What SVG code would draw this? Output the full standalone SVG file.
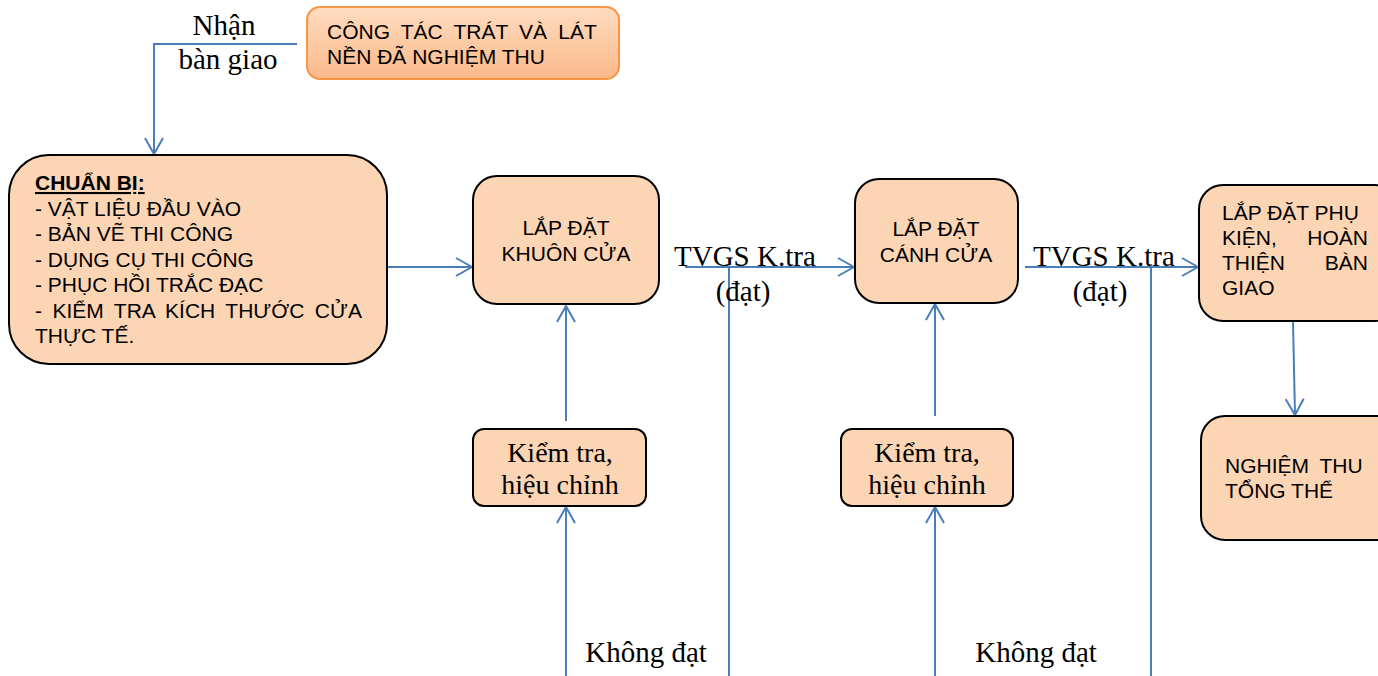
<svg xmlns="http://www.w3.org/2000/svg" width="1378" height="676" viewBox="0 0 1378 676">
<style>
.box{fill:#fcd5b5;stroke:#000;stroke-width:2}
.sans{font-family:"Liberation Sans",Arial,sans-serif;font-size:21px;fill:#000}
.serif{font-family:"Liberation Serif","Times New Roman",serif;font-size:29px;fill:#000}
.kt{font-size:28px}
.c{text-anchor:middle}
.ln{stroke:#4a7ebb;stroke-width:2;fill:none}
.arr{marker-end:url(#ah)}
</style>
<defs>
<linearGradient id="og" x1="0" y1="0" x2="0" y2="1">
<stop offset="0" stop-color="#fedcbf"/>
<stop offset="1" stop-color="#fbb98a"/>
</linearGradient>
<marker id="ah" viewBox="0 0 18 20" refX="17" refY="10" markerWidth="18" markerHeight="20" markerUnits="userSpaceOnUse" orient="auto">
<path d="M1,1 L17,10 L1,19" stroke="#4a7ebb" stroke-width="2" fill="none"/>
</marker>
</defs>

<g id="connectors">
<polyline class="ln arr" points="297,44 154,44 154,154"/>
<line class="ln arr" x1="388" y1="267" x2="472" y2="267"/>
<line class="ln arr" x1="685" y1="267" x2="854" y2="267"/>
<line class="ln arr" x1="1025" y1="267" x2="1198" y2="267"/>
<line class="ln" x1="729" y1="267" x2="729" y2="676"/>
<line class="ln" x1="1151" y1="267" x2="1151" y2="676"/>
<line class="ln arr" x1="566" y1="421" x2="566" y2="306"/>
<line class="ln arr" x1="566" y1="676" x2="566" y2="507"/>
<line class="ln arr" x1="935" y1="416" x2="935" y2="304"/>
<line class="ln arr" x1="935" y1="676" x2="935" y2="507"/>
<line class="ln arr" x1="1293" y1="322" x2="1295" y2="415"/>
<text class="serif c" x="224" y="35">Nhận</text>
<text class="serif c" x="228" y="69">bàn giao</text>
<text class="serif" x="674" y="266">TVGS K.tra</text>
<text class="serif c" x="743" y="301">(đạt)</text>
<text class="serif" x="1033" y="266">TVGS K.tra</text>
<text class="serif c" x="1100" y="301">(đạt)</text>
<text class="serif c" x="646" y="662">Không đạt</text>
<text class="serif c" x="1036" y="662">Không đạt</text>
</g>

<g id="node-nen">
<rect x="307" y="7" width="312" height="72" rx="13" fill="url(#og)" stroke="#f79646" stroke-width="2"/>
<text class="sans" x="327" y="39" word-spacing="5.3">CÔNG TÁC TRÁT VÀ LÁT</text>
<text class="sans" x="327" y="64">NỀN ĐÃ NGHIỆM THU</text>
</g>

<g id="node-chuanbi">
<rect class="box" x="9" y="155" width="378" height="209" rx="40"/>
<text class="sans" x="35" y="190" font-weight="bold" text-decoration="underline">CHUẨN BỊ:</text>
<text class="sans" x="35" y="216">- VẬT LIỆU ĐẦU VÀO</text>
<text class="sans" x="35" y="241">- BẢN VẼ THI CÔNG</text>
<text class="sans" x="35" y="267">- DỤNG CỤ THI CÔNG</text>
<text class="sans" x="35" y="292">- PHỤC HỒI TRẮC ĐẠC</text>
<text class="sans" x="35" y="318" word-spacing="4.6">- KIỂM TRA KÍCH THƯỚC CỬA</text>
<text class="sans" x="35" y="343">THỰC TẾ.</text>
</g>

<g id="node-khuon">
<rect class="box" x="473" y="176" width="186" height="128" rx="24"/>
<text class="sans c" x="566" y="235">LẮP ĐẶT</text>
<text class="sans c" x="566" y="261">KHUÔN CỬA</text>
</g>

<g id="node-canh">
<rect class="box" x="855" y="179" width="163" height="124" rx="24"/>
<text class="sans c" x="936" y="236">LẮP ĐẶT</text>
<text class="sans c" x="936" y="262">CÁNH CỬA</text>
</g>

<g id="node-phukien">
<rect class="box" x="1199" y="185" width="200" height="136" rx="24"/>
<text class="sans" x="1222" y="220">LẮP ĐẶT PHỤ</text>
<text class="sans" x="1222" y="245">KIỆN,</text>
<text class="sans" x="1368" y="245" text-anchor="end">HOÀN</text>
<text class="sans" x="1222" y="270">THIỆN</text>
<text class="sans" x="1368" y="270" text-anchor="end">BÀN</text>
<text class="sans" x="1222" y="295">GIAO</text>
</g>

<g id="node-nghiemthu">
<rect class="box" x="1201" y="416" width="200" height="124" rx="24"/>
<text class="sans" x="1225" y="473" word-spacing="5">NGHIỆM THU</text>
<text class="sans" x="1225" y="498">TỔNG THỂ</text>
</g>

<g id="node-kiemtra1">
<rect class="box" x="473" y="429" width="173" height="77" rx="11"/>
<text class="serif kt c" x="560" y="462">Kiểm tra,</text>
<text class="serif kt c" x="560" y="494">hiệu chỉnh</text>
</g>

<g id="node-kiemtra2">
<rect class="box" x="841" y="429" width="172" height="77" rx="11"/>
<text class="serif kt c" x="927" y="462">Kiểm tra,</text>
<text class="serif kt c" x="927" y="494">hiệu chỉnh</text>
</g>
</svg>
